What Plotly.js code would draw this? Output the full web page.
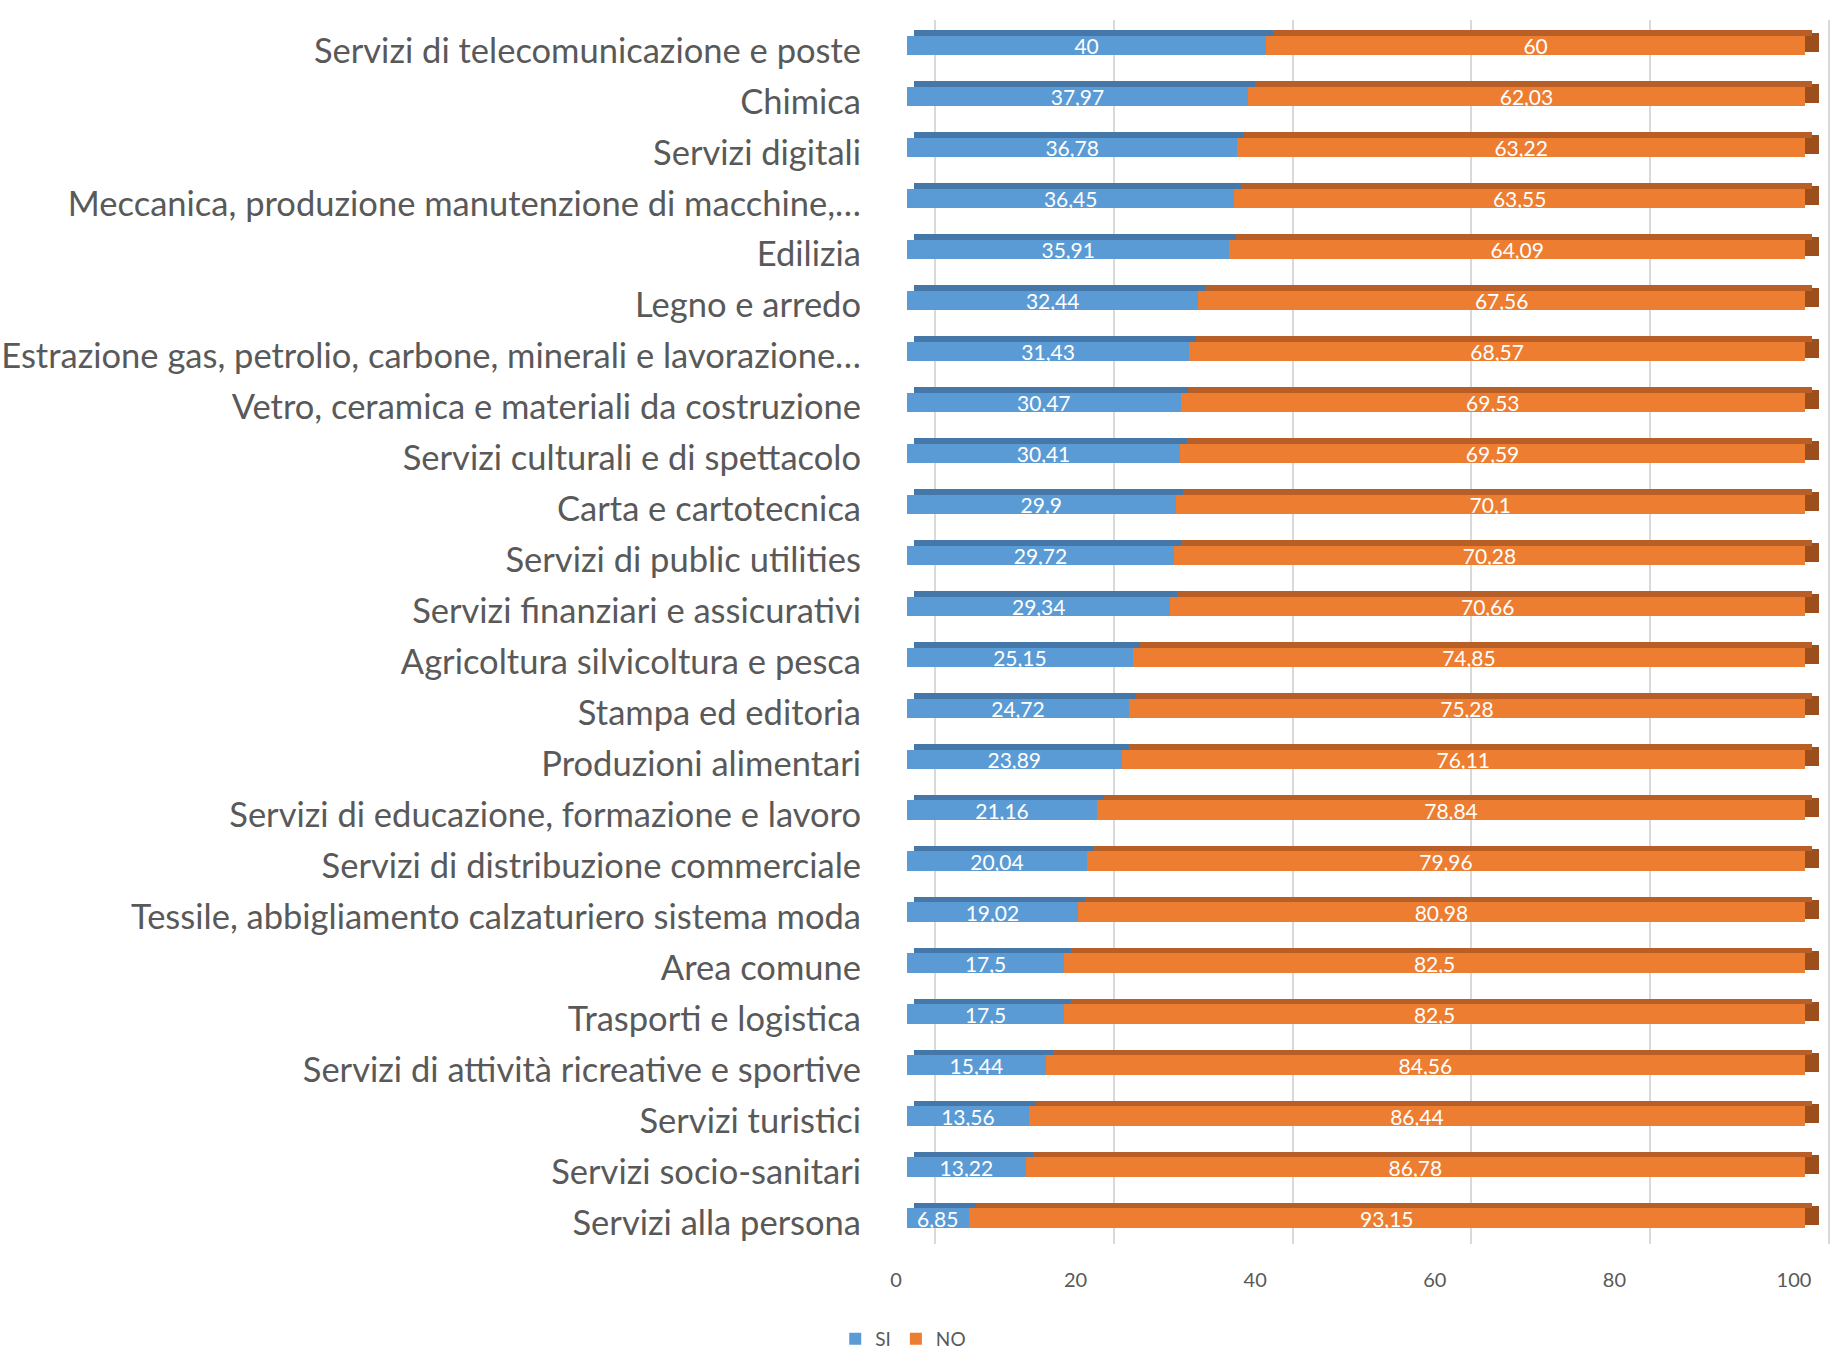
<!DOCTYPE html>
<html><head><meta charset="utf-8">
<script src="https://cdn.plot.ly/plotly-3.0.1.min.js"></script>
<style>html,body{margin:0;padding:0;background:#fff}#chart{width:1831px;height:1353px}</style>
</head><body><div id="chart"></div>
<script>
const categories = [
  "Servizi di telecomunicazione e poste",
  "Chimica",
  "Servizi digitali",
  "Meccanica, produzione manutenzione di macchine,…",
  "Edilizia",
  "Legno e arredo",
  "Estrazione gas, petrolio, carbone, minerali e lavorazione…",
  "Vetro, ceramica e materiali da costruzione",
  "Servizi culturali e di spettacolo",
  "Carta e cartotecnica",
  "Servizi di public utilities",
  "Servizi finanziari e assicurativi",
  "Agricoltura silvicoltura e pesca",
  "Stampa ed editoria",
  "Produzioni alimentari",
  "Servizi di educazione, formazione e lavoro",
  "Servizi di distribuzione commerciale",
  "Tessile, abbigliamento calzaturiero sistema moda",
  "Area comune",
  "Trasporti e logistica",
  "Servizi di attività ricreative e sportive",
  "Servizi turistici",
  "Servizi socio-sanitari",
  "Servizi alla persona"
];
const siValues = [40, 37.97, 36.78, 36.45, 35.91, 32.44, 31.43, 30.47, 30.41, 29.9, 29.72, 29.34, 25.15, 24.72, 23.89, 21.16, 20.04, 19.02, 17.5, 17.5, 15.44, 13.56, 13.22, 6.85];
const noValues = [60, 62.03, 63.22, 63.55, 64.09, 67.56, 68.57, 69.53, 69.59, 70.1, 70.28, 70.66, 74.85, 75.28, 76.11, 78.84, 79.96, 80.98, 82.5, 82.5, 84.56, 86.44, 86.78, 93.15];
const xTickValues = [0, 20, 40, 60, 80, 100];
const seriesNames = ["SI", "NO"];

const W = 1831, H = 1353;
const fmt = v => String(v).replace('.', ',');
const FONT = 'Lato, "Open Sans", sans-serif';
const BAR_W = 0.38, TOP_W = 0.11;
const colors = {si: '#5B9BD5', no: '#ED7D31', siTop: '#4677A9', noTop: '#B85F27', noSide: '#9C4F1D'};

// front faces (x2), base of NO = SI value
function mainTrace(name, vals, base, color) {
  return {
    type: 'bar', orientation: 'h', name: name,
    x: vals, base: base, y: categories, xaxis: 'x2',
    text: vals.map(fmt), textposition: 'inside', insidetextanchor: 'middle',
    textangle: 0, constraintext: 'none', cliponaxis: false,
    textfont: {family: FONT, size: 21, color: '#ffffff'},
    marker: {color: color, line: {width: 0}},
    width: BAR_W, offset: -BAR_W / 2,
    hoverinfo: 'x+y+name'
  };
}
// top faces (x3, shifted half the depth to the right)
function topTrace(name, vals, base, color) {
  return {
    type: 'bar', orientation: 'h', name: name + ' top',
    x: vals, base: base, y: categories, xaxis: 'x3',
    marker: {color: color, line: {width: 0}},
    width: TOP_W, offset: -BAR_W / 2 - TOP_W,
    showlegend: false, hoverinfo: 'skip'
  };
}
// right side face (main x, shifted by the full depth, drawn underneath)
function sideTrace(name, vals, base, color) {
  return {
    type: 'bar', orientation: 'h', name: name + ' side',
    x: vals, base: base, y: categories, xaxis: 'x',
    marker: {color: color, line: {width: 0}},
    width: BAR_W, offset: -BAR_W / 2 - TOP_W / 2,
    showlegend: false, hoverinfo: 'skip'
  };
}
// invisible helper traces so that the grid / label axes get their subplots
function helper(xa, ya) {
  return {type: 'scatter', mode: 'none', x: siValues, y: categories,
          xaxis: xa, yaxis: ya, showlegend: false, hoverinfo: 'skip'};
}

const data = [
  sideTrace(seriesNames[1], noValues, siValues, colors.noSide),
  mainTrace(seriesNames[0], siValues, undefined, colors.si),
  mainTrace(seriesNames[1], noValues, siValues, colors.no),
  topTrace(seriesNames[0], siValues, undefined, colors.siTop),
  topTrace(seriesNames[1], noValues, siValues, colors.noTop),
  helper('x4', 'y'),
  helper('x5', 'y'),
  helper('x2', 'y2')
];

// pixel geometry of the x axes (all share one domain; offsets via range)
const D0 = 880;                 // domain start (px)
const PX = 8.98;                // px per unit for bars
function rangeFor(zeroPx, pxPerUnit) {
  return [-(zeroPx - D0) / pxPerUnit, (W - zeroPx) / pxPerUnit];
}
const yTop = 20, yBot = 1243.5, labelShift = 5;
const rowPx = (yBot - yTop) / categories.length;
const catRange = [categories.length - 0.5, -0.5];
const labelRange = [catRange[0] - labelShift / rowPx, catRange[1] - labelShift / rowPx];
const hidden = {showgrid: false, zeroline: false, showline: false, showticklabels: false, ticks: ''};
const layout = {
  width: W, height: H,
  margin: {l: 0, r: 0, t: 0, b: 0, autoexpand: false},
  paper_bgcolor: '#ffffff', plot_bgcolor: 'rgba(0,0,0,0)',
  barmode: 'overlay', bargap: 0,
  showlegend: true,
  font: {family: FONT, color: '#595959'},
  xaxis: Object.assign({domain: [D0 / W, 1], range: rangeFor(921, PX), fixedrange: true}, hidden),
  xaxis2: Object.assign({overlaying: 'x', anchor: 'y', range: rangeFor(907, PX)}, hidden),
  xaxis3: Object.assign({overlaying: 'x', anchor: 'y', range: rangeFor(914, PX)}, hidden),
  xaxis4: Object.assign({overlaying: 'x', anchor: 'y', range: rangeFor(935, 8.94)}, hidden,
    {tickvals: xTickValues, showgrid: true, gridcolor: '#d9d9d9', gridwidth: 2}),
  xaxis5: {
    overlaying: 'x', anchor: 'y', range: rangeFor(896, PX),
    tickvals: xTickValues, ticktext: xTickValues.map(String),
    showgrid: false, zeroline: false, showline: false, ticks: '',
    tickfont: {family: FONT, size: 20, color: '#595959'},
    ticklabelstandoff: 22
  },
  yaxis: Object.assign({
    domain: [(H - yBot) / H, (H - yTop) / H],
    type: 'category', categoryorder: 'array', categoryarray: categories,
    range: catRange, fixedrange: true
  }, hidden),
  yaxis2: {
    overlaying: 'y', anchor: 'x',
    type: 'category', categoryorder: 'array', categoryarray: categories,
    range: labelRange,
    showgrid: false, zeroline: false, showline: false, ticks: '',
    tickfont: {family: FONT, size: 34.5, color: '#595959'},
    ticklabelstandoff: 18
  },
  legend: {
    orientation: 'h', x: 0.4933, xanchor: 'center',
    y: 1 - 1339 / H, yanchor: 'middle',
    font: {family: FONT, size: 19, color: '#595959'},
    itemwidth: 30, traceorder: 'normal'
  }
};

Plotly.newPlot('chart', data, layout, {displayModeBar: false, staticPlot: true});
</script>
</body></html>
